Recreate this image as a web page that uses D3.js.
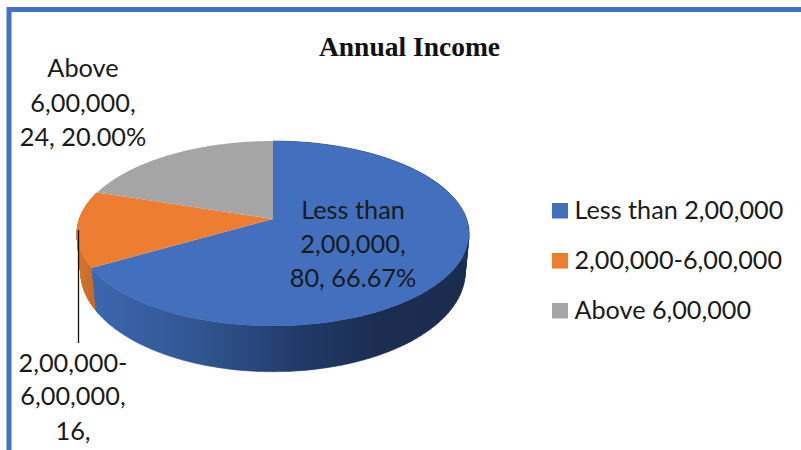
<!DOCTYPE html>
<html>
<head>
<meta charset="utf-8">
<style>
html, body { margin: 0; padding: 0; background: #fff; }
svg { display: block; }
text { font-family: Lato, "Open Sans", sans-serif; fill: #1a1a1a; }
</style>
<script src="https://cdn.jsdelivr.net/npm/d3@7"></script>
</head>
<body>
<svg id="chart" width="801" height="450"></svg>
<script>
const categories = ["Less than 2,00,000", "2,00,000-6,00,000", "Above 6,00,000"];
const values = [80, 16, 24];
const percents = ["66.67%", "13.33%", "20.00%"];
const colors = ["#4270BF", "#ED7D31", "#A5A5A5"];
const title = "Annual Income";

const svg = d3.select("#chart");
const defs = svg.append("defs");

// Frame: only the top and left edges fall inside the canvas
svg.append("path")
  .attr("d", "M9,450V9.5H801")
  .attr("fill", "none")
  .attr("stroke", "#4472C4")
  .attr("stroke-width", 5);

// The tilted disc is a perspective projection of a unit circle.
// Angle 0 is at the back of the disc and angles run clockwise.
function projector(cx, cy, a, b, k) {
  return theta => {
    const u = Math.sin(theta), v = -Math.cos(theta), w = 1 - k * v;
    return [cx + a * u / w, cy + b * v / w];
  };
}
const topRim = projector(273, 219, 193.6, 90.2, 0.157);
const baseRim = projector(273, 257, 190, 97.5, 0.15);

const arcs = d3.pie().sort(null).value(d => d)(values);
const line = d3.line();
const sweep = (from, to) => d3.range(0, 121).map(i => from + (to - from) * i / 120);

// Side wall colours fade horizontally towards the shaded right side
function wallGradient(id, xa, xb, stops) {
  const g = defs.append("linearGradient")
    .attr("id", id)
    .attr("gradientUnits", "userSpaceOnUse")
    .attr("x1", xa).attr("x2", xb).attr("y1", 0).attr("y2", 0);
  stops.forEach(([o, c]) => g.append("stop").attr("offset", o).attr("stop-color", c));
}
wallGradient("wall0", 92, 470, [[0, "#3C67AF"], [0.3, "#30548F"], [0.55, "#213A68"], [0.75, "#1B2E52"], [1, "#1A2C4E"]]);
wallGradient("wall1", 78, 96, [[0, "#D9722C"], [1, "#C46A29"]]);

// Walls are drawn first, as thin strips, so the top face covers whatever lies behind it
arcs.slice(0, 2).forEach((d, i) => {
  const ts = sweep(d.startAngle, d.endAngle);
  svg.append("path")
    .attr("d", d3.pairs(ts).map(([p, q]) =>
      line([topRim(p), topRim(q), baseRim(q), baseRim(p)]) + "Z").join(""))
    .attr("fill", `url(#wall${i})`)
    .attr("stroke", `url(#wall${i})`)
    .attr("stroke-width", 0.6);
});

// Top face wedges
const apex = [273, 219];
arcs.forEach((d, i) => {
  svg.append("path")
    .attr("d", line([apex, ...sweep(d.startAngle, d.endAngle).map(topRim)]) + "Z")
    .attr("fill", colors[i]);
});

// Title
svg.append("text")
  .attr("x", 409.5).attr("y", 56)
  .attr("text-anchor", "middle")
  .style("font-family", '"Liberation Serif", serif')
  .style("font-weight", "700")
  .style("font-size", "27.5px")
  .style("fill", "#111")
  .text(title);

// Data labels, wrapped the way the chart wraps them
const labelLines = [
  ["Less than", "2,00,000,", `${values[0]}, ${percents[0]}`],
  ["2,00,000-", "6,00,000,", `${values[1]},`],
  ["Above", "6,00,000,", `${values[2]}, ${percents[2]}`]
];
const labelPos = [
  { x: 353, y: [219, 253, 287] },
  { x: 73, y: [372, 405, 440] },
  { x: 83, y: [77, 112, 146] }
];
labelLines.forEach((rows, i) => {
  rows.forEach((row, j) => {
    svg.append("text")
      .attr("x", labelPos[i].x).attr("y", labelPos[i].y[j])
      .attr("text-anchor", "middle")
      .style("font-size", "25.3px")
      .text(row);
  });
});

// Leader line for the small wedge
svg.append("line")
  .attr("x1", 78.5).attr("x2", 78.5)
  .attr("y1", 230).attr("y2", 343)
  .attr("stroke", "#111")
  .attr("stroke-width", 1.3);

// Legend
const legendY = d3.scalePoint().domain(categories).range([211, 311]);
categories.forEach((c, i) => {
  const y = legendY(c);
  svg.append("rect")
    .attr("x", 552).attr("y", y - 8).attr("width", 16).attr("height", 15.5)
    .attr("fill", colors[i]);
  svg.append("text")
    .attr("x", 574.5).attr("y", y + 8)
    .style("font-size", "25.2px")
    .text(c);
});
</script>
</body>
</html>
